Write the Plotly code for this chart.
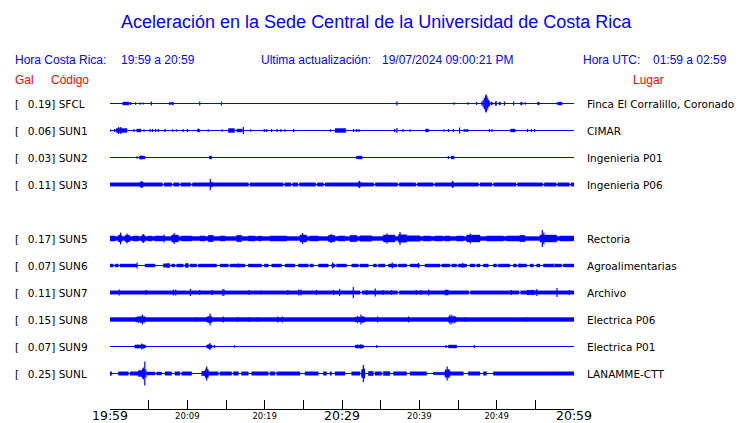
import plotly.graph_objects as go

# ---------------- data ----------------
codes = ["SFCL", "SUN1", "SUN2", "SUN3", "SUN4", "SUN5", "SUN6", "SUN7", "SUN8", "SUN9", "SUNL"]
gal = [0.19, 0.06, 0.03, 0.11, None, 0.17, 0.07, 0.11, 0.15, 0.07, 0.25]
places = ["Finca El Corralillo, Coronado", "CIMAR", "Ingenieria P01", "Ingenieria P06", "",
          "Rectoria", "Agroalimentarias", "Archivo", "Electrica P06", "Electrica P01", "LANAMME-CTT"]

# time in minutes after 19:59 ; amplitudes
tick_minutes = [0, 5, 10, 15, 20, 25, 30, 35, 40, 45, 50, 55, 60]
big_labels = {0: "19:59", 30: "20:29", 60: "20:59"}
small_labels = {10: "20:09", 20: "20:19", 40: "20:39", 50: "20:49"}

# noisy segments: (t_start, t_end, half amplitude)
segments = {
    "SFCL": [(1.64, 2.46, 1.5), (7.65, 7.85, 1.2), (8.0, 8.2, 1.5), (49.25, 49.45, 1.5), (49.8, 50.0, 2),
             (50.3, 50.5, 1.5), (53.1, 53.3, 1.5), (55.3, 55.5, 1.5), (57.95, 58.45, 1.5)],
    "SUN1": [(0.8, 2.2, 2), (3.45, 4.0, 1.5), (7.05, 7.2, 1.2), (11.3, 11.6, 1.5), (15.3, 16.1, 2),
             (16.4, 17.1, 1.5), (29.1, 30.5, 2), (40.8, 41.2, 1.5), (43.7, 43.85, 1.2), (51.8, 52.4, 1.5)],
    "SUN2": [(3.8, 4.5, 1.5), (12.85, 13.15, 1.5), (32.0, 32.6, 1.5), (44.1, 44.5, 1.5)],
    "SUN3": [(0, 6.8, 1.7), (7.0, 8.0, 1.7), (8.2, 8.95, 1.7), (9.15, 10.45, 1.7), (10.65, 17.9, 1.7),
             (18.1, 22.4, 1.7), (22.6, 23.4, 1.7), (23.6, 24.3, 1.7), (24.5, 26.6, 1.7), (26.8, 27.6, 1.7),
             (27.8, 34.1, 1.7), (34.3, 37.2, 1.7), (37.4, 39.55, 1.7), (39.75, 41.8, 1.7), (42.0, 47.65, 1.7),
             (47.85, 49.4, 1.7), (49.6, 52.5, 1.7), (52.7, 55.95, 1.7), (56.15, 57.7, 1.7), (57.9, 59.4, 1.7),
             (59.6, 60, 1.7), (3.85, 4.3, 2.5), (13.0, 13.3, 2.3), (32.1, 32.4, 2.5), (44.2, 44.4, 2.5)],
    "SUN5": [(0, 60, 2.0), (0.0, 0.65, 2.6), (1.08, 1.51, 3.5), (1.94, 2.59, 3.2), (3.02, 3.66, 2.6),
             (4.09, 4.53, 3.2), (4.96, 5.39, 2.6), (5.82, 6.9, 2.6), (7.97, 8.84, 3.5), (9.27, 10.56, 2.6),
             (11.64, 12.28, 2.6), (12.71, 13.36, 3.2), (14.22, 14.87, 2.6), (16.38, 17.02, 3.2),
             (17.88, 18.75, 2.6), (19.18, 19.61, 2.4), (20.69, 22.84, 2.6), (24.57, 25.43, 3.5),
             (25.86, 26.94, 2.6), (28.23, 29.09, 3.2), (29.52, 30.39, 2.6), (31.03, 31.9, 3.2),
             (32.33, 33.83, 2.8), (35.34, 36.85, 3.5), (37.28, 38.36, 3.8), (38.36, 40.08, 2.8),
             (40.52, 41.5, 2.6), (42.0, 43.0, 2.6), (43.3, 43.96, 2.6), (44.83, 45.69, 2.6),
             (46.12, 47.84, 3.5), (48.7, 50.86, 2.6), (51.29, 53.0, 2.6), (53.0, 53.66, 3.2),
             (55.6, 57.76, 3.5), (58.19, 59.91, 2.6)],
    "SUN6": [(0.0, 0.43, 1.5), (0.65, 1.08, 1.5), (1.29, 3.45, 1.5), (4.53, 5.82, 1.5), (6.9, 7.76, 1.8),
             (7.97, 8.4, 1.5), (8.62, 9.48, 1.5), (9.7, 10.13, 1.8), (10.34, 11.21, 1.5), (11.42, 13.79, 1.5),
             (14.22, 15.3, 1.5), (15.52, 17.45, 1.5), (17.88, 19.61, 1.5), (19.95, 20.47, 1.5),
             (20.9, 22.2, 1.5), (22.63, 23.92, 1.5), (24.35, 25.64, 1.5), (25.86, 26.29, 1.5),
             (26.94, 28.23, 1.5), (28.66, 29.09, 1.5), (29.3, 30.6, 1.5), (31.25, 32.11, 1.5),
             (32.33, 33.4, 1.5), (34.05, 34.48, 1.5), (34.7, 35.56, 1.5), (35.99, 37.07, 1.5),
             (37.28, 38.36, 1.5), (38.79, 40.0, 1.5), (40.73, 42.67, 1.5), (42.89, 43.96, 1.5),
             (44.18, 44.83, 1.5), (45.04, 46.12, 1.5), (46.55, 47.2, 1.5), (47.41, 47.84, 1.5),
             (48.27, 48.92, 1.5), (49.57, 50.0, 1.5), (50.21, 51.72, 1.5), (52.15, 52.58, 1.5),
             (52.8, 53.88, 1.5), (54.31, 54.74, 1.5), (55.17, 55.6, 1.5), (56.03, 57.32, 1.5),
             (57.54, 58.4, 1.5), (58.62, 60.0, 1.5)],
    "SUN7": [(0, 32.35, 1.7), (32.6, 37.2, 1.7), (37.4, 46.4, 1.7), (46.6, 52.9, 1.7), (53.1, 60, 1.7),
             (43.3, 43.75, 2.6), (54.0, 54.9, 2.2)],
    "SUN8": [(0, 60, 1.9), (3.32, 4.6, 2.5), (12.5, 13.2, 2.5), (31.7, 33.0, 2.5), (43.75, 44.8, 2.5)],
    "SUN9": [(3.2, 4.6, 1.6), (12.5, 13.2, 1.6), (31.7, 32.8, 1.5), (43.75, 44.83, 1.5)],
    "SUNL": [(0.0, 0.22, 1.8), (1.08, 2.37, 1.8), (2.6, 3.66, 1.8), (3.66, 4.53, 3.0), (4.74, 5.82, 1.6),
             (6.03, 6.68, 1.5), (7.11, 7.97, 1.8), (8.4, 9.05, 1.8), (9.27, 10.56, 1.8), (11.85, 12.28, 2.2),
             (12.28, 12.71, 3.0), (12.71, 14.0, 1.8), (14.22, 15.73, 1.8), (15.95, 16.6, 1.8), (17.0, 17.88, 1.8),
             (18.32, 20.47, 1.8), (20.69, 21.33, 1.8), (21.55, 24.57, 1.8), (25.21, 26.94, 1.8), (27.58, 28.01, 1.8),
             (28.45, 28.66, 1.8), (29.09, 30.39, 1.8), (31.25, 32.33, 1.8), (32.54, 32.97, 3.0), (33.4, 34.05, 2.2),
             (34.27, 35.13, 1.8), (35.34, 36.2, 2.0), (36.64, 38.36, 1.8), (38.79, 40.95, 1.8), (41.81, 43.3, 1.3),
             (43.3, 43.96, 3.0), (43.96, 45.69, 1.8), (46.33, 47.84, 1.8), (48.27, 48.7, 1.8), (49.57, 60.0, 1.8)],
}

# single spikes: (t, half amplitude)
spikes = {
    "SFCL": [(2.67, 1.5), (3.3, 1.2), (3.9, 1.2), (4.3, 1), (5.35, 2), (11.6, 2), (14.4, 2), (37.1, 2),
             (44.5, 1.2), (46.3, 1.2), (47.4, 1.5), (48.1, 2), (48.25, 3.5), (48.4, 5.5), (48.55, 8),
             (48.65, 9), (48.75, 7), (48.85, 5), (48.95, 3.5), (49.05, 2.5), (51.0, 2), (52.2, 2),
             (53.7, 1.2), (57.8, 1.2)],
    "SUN1": [(0.0, 1.5), (0.6, 1.5), (1.1, 3.5), (1.4, 3.5), (3.1, 1.5), (4.4, 1.2), (5.2, 1.5), (5.5, 1.5),
             (5.9, 1.5), (6.25, 1.5), (8.1, 1.2), (8.6, 1.2), (9.45, 1.5), (10.0, 1.5), (12.7, 1.2),
             (14.5, 1.2), (17.25, 3.5), (18.2, 1.2), (19.95, 1.5), (20.25, 1.5), (20.9, 1.5), (21.6, 1.5),
             (22.1, 1.5), (22.6, 1.2), (23.75, 1.5), (28.5, 1.2), (31.5, 1.5), (31.9, 1.5), (32.2, 1.5),
             (36.8, 1.5), (37.1, 2.5), (37.9, 1.5), (38.8, 1.2), (43.2, 1.2), (44.4, 1.5), (45.2, 3),
             (45.8, 1.5), (46.05, 1.5), (46.25, 1.5), (49.05, 1.5), (49.4, 1.5), (54.0, 1.5), (54.5, 1.5),
             (54.9, 1.5)],
    "SUN2": [(3.5, 1.2), (4.0, 2.0), (31.9, 1.5), (43.75, 1.5)],
    "SUN3": [(4.1, 3.5), (12.97, 5.5), (32.25, 3.5), (44.3, 3.5)],
    "SUN5": [(1.38, 6), (2.2, 5), (4.3, 4.5), (7.0, 4), (8.3, 5.5), (24.9, 5.5), (28.6, 4.5), (35.8, 5),
             (37.5, 6.5), (46.6, 5), (55.9, 8.5), (56.1, 6)],
    "SUN6": [(3.5, 3), (7.5, 2.5), (10.0, 2.5), (16.6, 2), (28.8, 3), (36.5, 3), (39.9, 2.5), (45.6, 2.5),
             (53.0, 2), (57.4, 2)],
    "SUN7": [(1.2, 3), (4.65, 2.5), (8.2, 3), (8.5, 3), (10.4, 3.5), (11.6, 2.5), (13.2, 2.5), (14.6, 3.5),
             (14.75, 3), (18.0, 2.5), (19.5, 2), (23.0, 2.5), (24.4, 3), (24.7, 3), (26.7, 2.5), (28.9, 2.5),
             (29.7, 3.5), (31.46, 5.5), (33.2, 2.5), (34.3, 4), (35.3, 2.5), (36.4, 2.5), (39.6, 2.5),
             (40.2, 2.5), (41.2, 3), (51.9, 2.5), (54.0, 2.5), (54.6, 2.5), (55.2, 3.5), (57.8, 4.5),
             (59.4, 2.5)],
    "SUN8": [(3.7, 3.2), (4.0, 3.5), (4.18, 5), (4.4, 3.5), (11.2, 2.5), (12.7, 3.5), (12.93, 6), (13.05, 4),
             (14.65, 3), (16.5, 2.5), (18.0, 2.5), (19.1, 2.5), (21.7, 3), (22.3, 3), (32.0, 3.5), (32.45, 5),
             (32.7, 3.5), (34.6, 3), (38.6, 3), (43.9, 4), (44.1, 5), (44.35, 4), (44.6, 3.5), (45.9, 2.5),
             (53.8, 2.5)],
    "SUN9": [(3.6, 2), (4.1, 3), (4.3, 2.2), (12.8, 2.5), (12.93, 3.5), (13.5, 1.5), (16.1, 1.2), (32.0, 1.8),
             (32.45, 2.2), (34.5, 1.5), (43.45, 1.5), (47.1, 1.5)],
    "SUNL": [(4.2, 5), (4.35, 6), (4.5, 12), (4.65, 4), (12.4, 5), (12.5, 7), (12.65, 4.5), (32.6, 4.5),
             (32.76, 8.5), (32.9, 5), (43.45, 4.5), (43.6, 7), (43.8, 4.5)],
}

# ---------------- layout constants ----------------
W, H = 740, 423
PL, PR = 110, 574          # plot area in px (x)
PT, PB = 0, 409            # plot area in px (y)
ROW0, ROW_STEP = 103.5, 27  # px of first row centre, px between rows
BLUE = "#0000ff"
RED = "#ff0000"


def px_x(p):
    return (p - PL) / (PR - PL)


def px_y(p):
    return 1 - (p - PT) / (PB - PT)


fig = go.Figure()

for i, code in enumerate(codes):
    if gal[i] is None:
        continue
    yc = i * ROW_STEP
    # quiet baseline
    fig.add_trace(go.Scatter(x=[tick_minutes[0], tick_minutes[-1]], y=[yc, yc], mode="lines",
                             line=dict(color=BLUE, width=1), hoverinfo="skip", showlegend=False))
    # noisy bands
    xs, ys = [], []
    for t0, t1, a in segments.get(code, []):
        xs += [t0, t1, t1, t0, t0, None]
        ys += [yc - a, yc - a, yc + a, yc + a, yc - a, None]
    if xs:
        fig.add_trace(go.Scatter(x=xs, y=ys, mode="lines", fill="toself", fillcolor=BLUE,
                                 line=dict(color=BLUE, width=0.4), hoverinfo="skip", showlegend=False))
    # spikes
    xs, ys = [], []
    for t, a in spikes.get(code, []):
        xs += [t, t, None]
        ys += [yc - a, yc + a, None]
    if xs:
        fig.add_trace(go.Scatter(x=xs, y=ys, mode="lines", line=dict(color=BLUE, width=1.2),
                                 hoverinfo="skip", showlegend=False))

# invisible trace bound to secondary x axis (small tick labels)
fig.add_trace(go.Scatter(x=[0, 60], y=[0, 0], xaxis="x2", mode="markers", marker=dict(opacity=0),
                         hoverinfo="skip", showlegend=False))

annotations = []


def note(x, y, text, font, xref="paper", yref="paper", xanchor="left"):
    annotations.append(dict(x=x, y=y, xref=xref, yref=yref, text=text, showarrow=False,
                            xanchor=xanchor, yanchor="middle", borderpad=0, borderwidth=0,
                            font=font))


label_font = dict(family="DejaVu Sans", size=10.5, color="black")
# station labels
for i, code in enumerate(codes):
    if gal[i] is None:
        continue
    note(px_x(15), i * ROW_STEP, "[\u00a0\u00a0\u2009%.2f] %s" % (gal[i], code), label_font, yref="y")
    note(px_x(587), i * ROW_STEP, places[i], label_font, yref="y")

# title and headers
note(px_x(376), px_y(22), "Aceleración en la Sede Central de la Universidad de Costa Rica",
     dict(family="Liberation Sans", size=18, color=BLUE), xanchor="center")
header = [(15, "Hora Costa Rica:"), (121, "19:59 a 20:59"), (261, "Ultima actualización:"),
          (382, "19/07/2024 09:00:21 PM"), (583, "Hora UTC:"), (653, "01:59 a 02:59")]
for xp, txt in header:
    note(px_x(xp), px_y(60), txt, dict(family="Liberation Sans", size=12, color=BLUE))
for xp, txt in [(15, "Gal"), (51, "Código"), (633, "Lugar")]:
    note(px_x(xp), px_y(80), txt, dict(family="Liberation Sans", size=12, color=RED))

fig.update_layout(
    width=W, height=H,
    margin=dict(l=PL, r=W - PR, t=PT, b=H - PB, pad=0),
    paper_bgcolor="white", plot_bgcolor="white",
    showlegend=False,
    annotations=annotations,
    xaxis=dict(range=[tick_minutes[0], tick_minutes[-1]], tickvals=tick_minutes,
               ticktext=[big_labels.get(t, "") for t in tick_minutes],
               ticks="inside", ticklen=9, tickcolor="black", tickwidth=1,
               showline=True, linecolor="black", linewidth=1, showgrid=False, zeroline=False,
               tickfont=dict(family="DejaVu Sans", size=12.5, color="black"), automargin=False,
               ticklabelstandoff=-5, fixedrange=True),
    xaxis2=dict(range=[tick_minutes[0], tick_minutes[-1]], overlaying="x", anchor="y", side="bottom",
                tickvals=list(small_labels.keys()), ticktext=list(small_labels.values()),
                ticks="", showline=False, showgrid=False, zeroline=False,
                tickfont=dict(family="DejaVu Sans", size=8.5, color="black"), automargin=False,
                fixedrange=True),
    yaxis=dict(range=[(PB - ROW0), (PT - ROW0)], visible=False, fixedrange=True),
)

fig.write_html("out.html", config={"displayModeBar": False, "staticPlot": True},
               post_script="document.body.style.margin='0px';")
